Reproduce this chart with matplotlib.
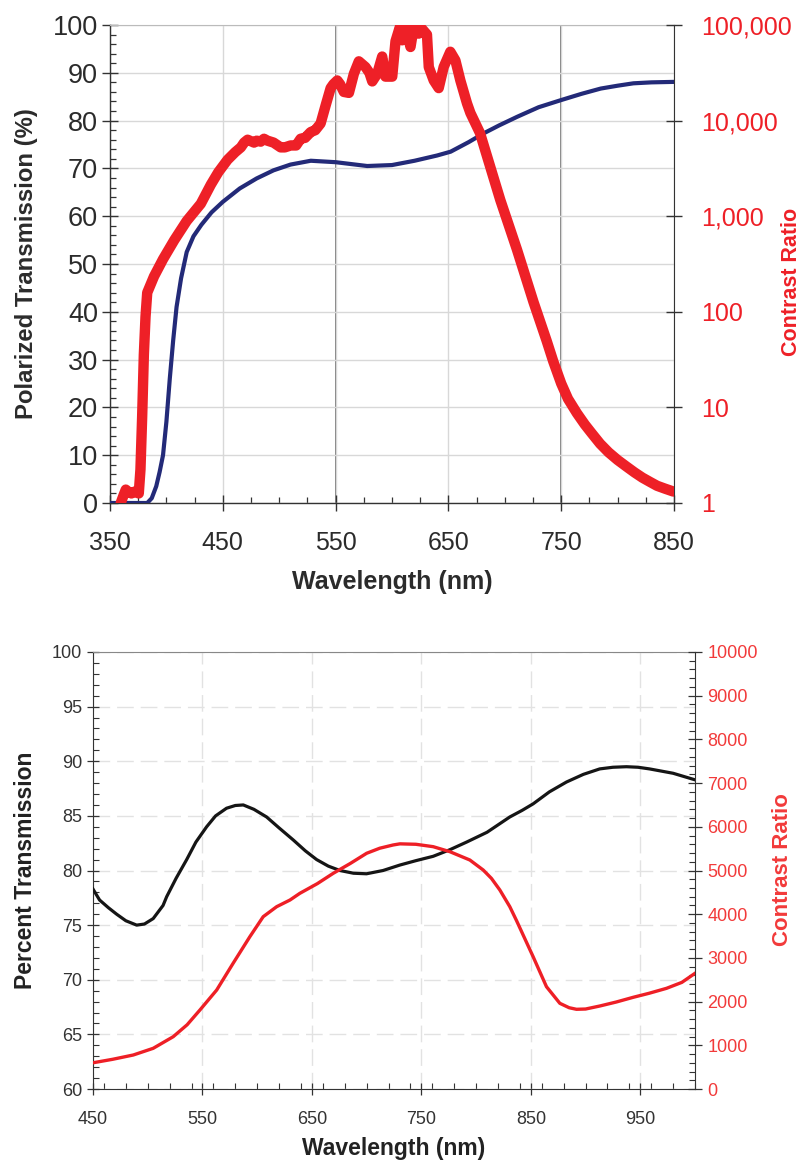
import matplotlib
matplotlib.use("Agg")
import matplotlib.pyplot as plt
from matplotlib.ticker import MultipleLocator, FixedLocator, NullLocator

plt.rcParams['font.family'] = ['Liberation Sans', 'DejaVu Sans']

# ---------------- Top chart data ----------------
top_wl_blue = [350, 383, 387, 391, 394, 397, 400, 403, 406, 409, 413, 418, 424, 431, 440, 450,
               465, 480, 495, 510, 528, 550, 578, 600, 620, 640, 652, 668, 681, 695, 711, 730,
               750, 768, 785, 800, 814, 830, 850]
top_trans_blue = [0, 0, 1, 3.5, 6.5, 10, 17, 26, 34, 41, 47, 52.5, 55.8, 58.2, 60.8, 63,
                  65.8, 67.9, 69.6, 70.8, 71.6, 71.3, 70.5, 70.7, 71.6, 72.7, 73.5, 75.5,
                  77.3, 79.0, 80.8, 82.8, 84.3, 85.6, 86.7, 87.3, 87.8, 88.0, 88.1]

top_wl_red = [359.5, 362, 364, 366, 369, 372, 375.5, 377, 378.5, 380, 381.5, 383, 389, 397, 407,
              418, 430.5, 439.4, 446, 454.2, 461, 466, 468.9, 472, 477.7, 480, 483.6, 486.5,
              489.6, 495, 501.3, 505, 510.2, 515, 519, 523, 527.9, 532, 536.7, 541.2, 545.6,
              548, 551.5, 554, 557.3, 561.8, 566.2, 570.6, 576.5, 580, 582.5, 586.9, 591.3,
              594.2, 600.2, 603.1, 607, 609, 612, 616.4, 619.3, 623.7, 626.6, 631, 632.6, 637,
              641.4, 645.8, 651.7, 656.2, 660.6, 666.5, 669.5, 678, 687, 696, 710.8, 725.5,
              737, 743, 750, 756, 763.9, 771, 777, 784.5, 792, 800, 808, 815, 822, 828.8,
              835, 842, 849.4]
top_log_cr_red = [0.0, 0.08, 0.14, 0.12, 0.10, 0.12, 0.10, 0.35, 0.9, 1.55, 1.95, 2.2, 2.37,
                  2.55, 2.75, 2.95, 3.13, 3.33, 3.46, 3.59, 3.67, 3.72, 3.77, 3.80, 3.77, 3.79,
                  3.78, 3.81, 3.79, 3.77, 3.72, 3.72, 3.74, 3.74, 3.81, 3.82, 3.88, 3.90, 3.97,
                  4.16, 4.34, 4.38, 4.42, 4.38, 4.30, 4.29, 4.49, 4.62, 4.56, 4.50, 4.41, 4.49,
                  4.67, 4.46, 4.46, 4.83, 4.98, 4.84, 4.98, 4.77, 4.98, 4.91, 4.96, 4.90, 4.56,
                  4.42, 4.34, 4.56, 4.72, 4.63, 4.42, 4.18, 4.08, 3.87, 3.52, 3.17, 2.65, 2.10,
                  1.70, 1.48, 1.25, 1.09, 0.94, 0.82, 0.73, 0.62, 0.53, 0.45, 0.38, 0.32, 0.265,
                  0.22, 0.18, 0.15, 0.12]
top_cr_red = [10 ** v for v in top_log_cr_red]

top_xticks = [350, 450, 550, 650, 750, 850]
top_yticks = [0, 10, 20, 30, 40, 50, 60, 70, 80, 90, 100]
top_rticks = [1, 10, 100, 1000, 10000, 100000]
top_rlabels = ['1', '10', '100', '1,000', '10,000', '100,000']
top_dark_vlines = [550, 750]

# ---------------- Bottom chart data ----------------
bot_wl_black = [450, 456, 464, 471.6, 480, 489.9, 497, 505, 514, 517.3, 526, 535.6, 544, 553.8,
                562, 572, 580, 587.3, 597, 608.6, 620, 632.9, 644, 654.3, 665, 675.6, 688,
                699.9, 715, 730.4, 745, 760.8, 776, 791.3, 810, 830.8, 842, 852.1, 867, 882.6,
                898, 913, 925, 937.4, 948, 958.4, 980, 1000]
bot_trans_black = [78.3, 77.3, 76.6, 76.0, 75.4, 75.0, 75.1, 75.6, 76.8, 77.6, 79.3, 81.0, 82.6,
                   84.0, 85.0, 85.7, 85.95, 86.0, 85.6, 84.9, 83.9, 82.8, 81.8, 81.0, 80.4,
                   80.0, 79.75, 79.7, 80.0, 80.5, 80.9, 81.3, 81.9, 82.6, 83.5, 84.9, 85.5, 86.1,
                   87.2, 88.1, 88.8, 89.3, 89.45, 89.5, 89.45, 89.3, 88.9, 88.3]

bot_wl_red = [450, 468, 486.8, 505, 523.3, 536, 547.7, 563, 578, 593.3, 605.5, 617.8, 630, 639,
              655, 669.5, 685, 700, 712, 724.2, 730.4, 745, 760.8, 776, 794.3, 806.5, 814,
              821.7, 830.8, 837, 852.1, 864.3, 876.5, 885, 891.7, 900, 913, 928, 943.5, 958,
              974, 988, 1000]
bot_cr_red = [600, 680, 778, 931, 1197, 1470, 1808, 2265, 2876, 3485, 3943, 4172, 4325, 4478,
              4700, 4936, 5160, 5394, 5510, 5584, 5610, 5600, 5545, 5431, 5240, 5011, 4820,
              4554, 4172, 3850, 3028, 2341, 1961, 1860, 1824, 1830, 1899, 1990, 2098, 2190,
              2304, 2440, 2647]

bot_xticks = [450, 550, 650, 750, 850, 950]
bot_yticks = [60, 65, 70, 75, 80, 85, 90, 95, 100]
bot_rticks = [0, 1000, 2000, 3000, 4000, 5000, 6000, 7000, 8000, 9000, 10000]

RED_TOP = '#ee2027'
BLUE_TOP = '#232a78'
RED_BOT = '#ee1f26'
RED_LBL = '#f23a3a'
TXT = '#2b2b2b'

fig = plt.figure(figsize=(8.03, 11.66), dpi=100)

# ================= TOP =================
ax1 = fig.add_axes([110 / 803, 1 - 503 / 1166, (674 - 110) / 803, (503 - 25) / 1166])
ax1.set_xlim(350, 850)
ax1.set_ylim(0, 100)
ax1.set_xticks(top_xticks)
ax1.set_yticks(top_yticks)
ax1.xaxis.set_minor_locator(MultipleLocator(25))
ax1.yaxis.set_minor_locator(MultipleLocator(2))
ax1.grid(True, which='major', axis='both', color='#d8d8d8', linewidth=1.0, zorder=0)
for xv in top_dark_vlines:
    ax1.axvline(xv, color='#555555', linewidth=1.1, zorder=0.5)
ax1.plot(top_wl_blue, top_trans_blue, color=BLUE_TOP, linewidth=3.0, zorder=3,
         solid_capstyle='round', solid_joinstyle='round')
ax1.tick_params(axis='both', which='major', direction='inout', length=11, width=1.0,
                color='#333333', labelcolor=TXT)
ax1.tick_params(axis='x', which='major', labelsize=18, pad=15)
ax1.tick_params(axis='y', which='major', labelsize=19.5, pad=3)
ax1.tick_params(axis='both', which='minor', direction='in', length=4, width=0.9, color='#333333')
for s in ['left', 'bottom']:
    ax1.spines[s].set_color('#333333')
    ax1.spines[s].set_linewidth(1.0)
ax1.spines['top'].set_color('#bbbbbb')
ax1.spines['right'].set_visible(False)
ax1.set_xlabel('Wavelength (nm)', fontsize=18, fontweight='bold', color=TXT)
ax1.xaxis.set_label_coords(0.5, (503 - 570) / 478)
ax1.set_ylabel('Polarized Transmission (%)', fontsize=17.2, fontweight='bold', color=TXT)
ax1.yaxis.set_label_coords((38 - 110) / 564, 0.5)

ax2 = ax1.twinx()
ax2.set_yscale('log')
ax2.set_ylim(1, 100000)
ax2.plot(top_wl_red, top_cr_red, color=RED_TOP, linewidth=7.5, zorder=4,
         solid_capstyle='round', solid_joinstyle='round')
ax2.yaxis.set_major_locator(FixedLocator(top_rticks))
ax2.yaxis.set_minor_locator(NullLocator())
ax2.set_yticklabels(top_rlabels)
ax2.tick_params(axis='y', which='major', direction='inout', length=11, width=1.0,
                color='#333333', labelsize=18, labelcolor=RED_TOP, pad=14)
ax2.spines['right'].set_color('#333333')
ax2.spines['top'].set_visible(False)
ax2.spines['left'].set_visible(False)
ax2.spines['bottom'].set_visible(False)
ax2.set_ylabel('Contrast Ratio', fontsize=15.5, fontweight='bold', color=RED_TOP)
ax2.yaxis.set_label_coords((781 - 110) / 564, (503 - 282) / 478)

# ================= BOTTOM =================
ax3 = fig.add_axes([93 / 803, 1 - 1089 / 1166, (695 - 93) / 803, (1089 - 652) / 1166])
ax3.set_xlim(450, 1000)
ax3.set_ylim(60, 100)
ax3.set_xticks(bot_xticks)
ax3.set_yticks(bot_yticks)
ax3.xaxis.set_minor_locator(MultipleLocator(20))
ax3.yaxis.set_minor_locator(MultipleLocator(1))
ax3.grid(True, which='major', axis='both', color='#e2e2e2', linewidth=1.0,
         linestyle=(0, (12, 5)), zorder=0)
ax3.plot(bot_wl_black, bot_trans_black, color='#151515', linewidth=2.3, zorder=3)
ax3.tick_params(axis='both', which='major', direction='inout', length=8, width=0.9,
                color='#333333', labelsize=13, labelcolor='#333333')
ax3.tick_params(axis='both', which='minor', direction='in', length=4, width=0.8, color='#333333')
ax3.tick_params(axis='x', which='major', pad=12)
ax3.tick_params(axis='y', which='major', pad=4)
for s in ['left', 'bottom']:
    ax3.spines[s].set_color('#333333')
ax3.spines['top'].set_color('#888888')
ax3.spines['right'].set_visible(False)
ax3.set_xlabel('Wavelength (nm)', fontsize=16.5, fontweight='bold', color='#222222')
ax3.xaxis.set_label_coords(0.5, (1089 - 1137) / 437)
ax3.set_ylabel('Percent Transmission', fontsize=16.5, fontweight='bold', color='#222222')
ax3.yaxis.set_label_coords((37 - 93) / 602, (1089 - 870) / 437)

ax4 = ax3.twinx()
ax4.set_ylim(0, 10000)
ax4.set_yticks(bot_rticks)
ax4.yaxis.set_minor_locator(MultipleLocator(200))
ax4.plot(bot_wl_red, bot_cr_red, color=RED_BOT, linewidth=2.4, zorder=4)
ax4.tick_params(axis='y', which='major', direction='inout', length=10, width=0.9,
                color='#333333', labelsize=13, labelcolor=RED_LBL, pad=4)
ax4.tick_params(axis='y', which='minor', direction='in', length=4, width=0.8, color='#333333')
ax4.spines['right'].set_color('#333333')
for s in ['top', 'left', 'bottom']:
    ax4.spines[s].set_visible(False)
ax4.set_ylabel('Contrast Ratio', fontsize=16, fontweight='bold', color=RED_LBL)
ax4.yaxis.set_label_coords((772 - 93) / 602, (1089 - 870) / 437)

fig.savefig('out.png', dpi=100)
